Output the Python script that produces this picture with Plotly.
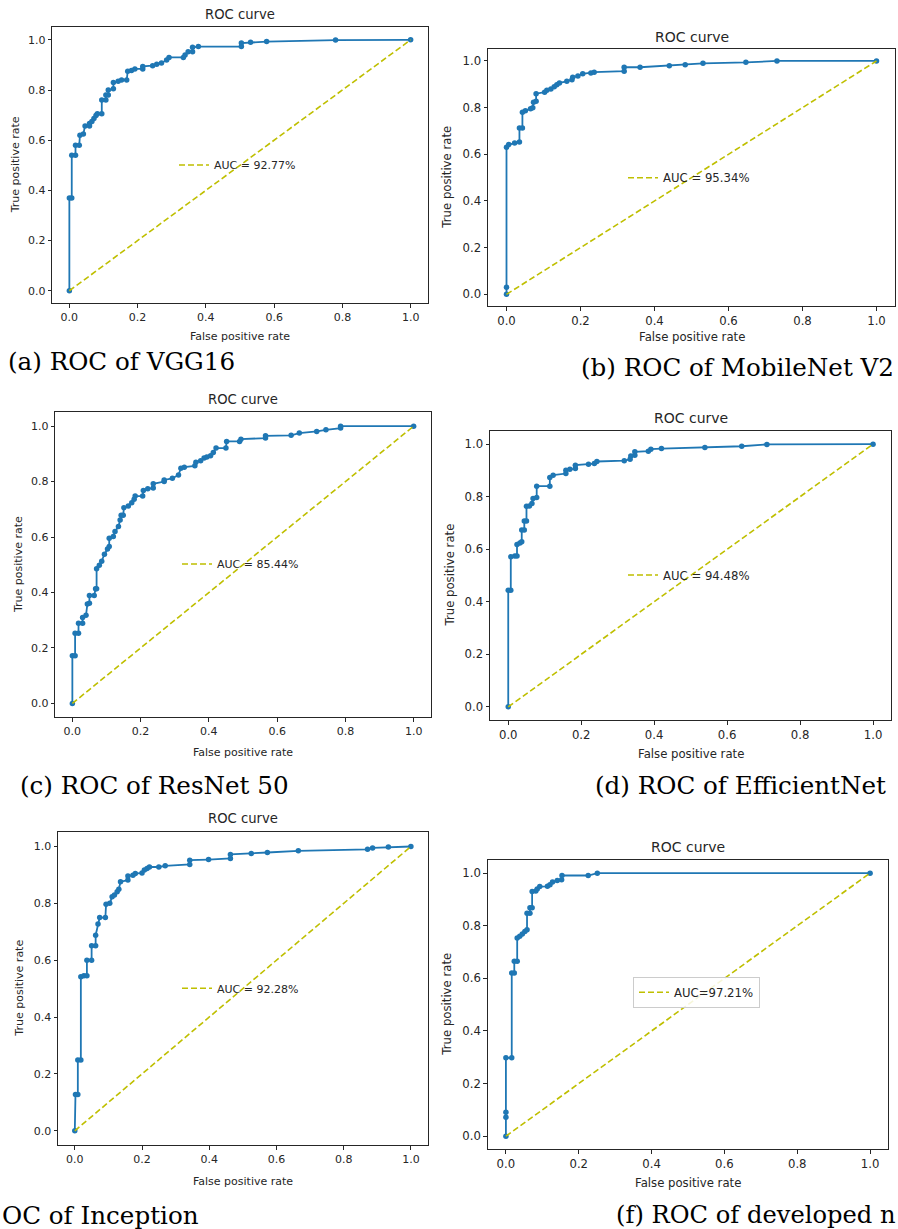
import plotly.graph_objects as go

# ---------------- data ----------------
model_names = ["VGG16", "MobileNet V2", "ResNet 50", "EfficientNet", "Inception", "developed model"]
# captions as visible in the reference (the outer two are cropped at the page edge there)
captions = ["(a) ROC of VGG16", "(b) ROC of MobileNet V2", "(c) ROC of ResNet 50",
            "(d) ROC of EfficientNet", "OC of Inception", "(f) ROC of developed n"]
auc_labels = ["AUC = 92.77%", "AUC = 95.34%", "AUC = 85.44%", "AUC = 94.48%", "AUC = 92.28%", "AUC=97.21%"]
tick_vals = [0.0, 0.2, 0.4, 0.6, 0.8, 1.0]
chance_x = [0, 1]
chance_y = [0, 1]

fpr_vgg16 = [0, 0, 0.007, 0.007, 0.018, 0.018, 0.029, 0.031, 0.041, 0.046,
             0.059, 0.059, 0.066, 0.072, 0.078, 0.082, 0.095, 0.095, 0.107, 0.107,
             0.114, 0.114, 0.129, 0.129, 0.143, 0.153, 0.168, 0.171, 0.182, 0.192,
             0.215, 0.215, 0.244, 0.256, 0.270, 0.285, 0.292, 0.334, 0.339, 0.348,
             0.361, 0.361, 0.378, 0.504, 0.504, 0.531, 0.578, 0.780, 1.0]
tpr_vgg16 = [0, 0.37, 0.37, 0.54, 0.54, 0.58, 0.58, 0.62, 0.625, 0.657,
             0.657, 0.667, 0.675, 0.687, 0.698, 0.705, 0.705, 0.76, 0.76, 0.78,
             0.78, 0.80, 0.805, 0.83, 0.835, 0.84, 0.84, 0.875, 0.878, 0.884,
             0.884, 0.894, 0.897, 0.903, 0.908, 0.92, 0.93, 0.93, 0.94, 0.953,
             0.953, 0.97, 0.973, 0.973, 0.987, 0.99, 0.993, 0.999, 1.0]

fpr_mobilenet = [0, 0, 0, 0.006, 0.022, 0.035, 0.035, 0.043, 0.043, 0.051,
                 0.065, 0.071, 0.073, 0.080, 0.080, 0.103, 0.109, 0.120, 0.129, 0.136,
                 0.143, 0.163, 0.177, 0.179, 0.193, 0.206, 0.228, 0.237, 0.318, 0.318,
                 0.361, 0.440, 0.483, 0.531, 0.647, 0.731, 1.0]
tpr_mobilenet = [0, 0.03, 0.63, 0.642, 0.649, 0.653, 0.713, 0.713, 0.78, 0.787,
                 0.795, 0.80, 0.823, 0.827, 0.86, 0.866, 0.874, 0.88, 0.89, 0.898,
                 0.906, 0.913, 0.92, 0.93, 0.936, 0.945, 0.948, 0.952, 0.956, 0.973,
                 0.973, 0.98, 0.984, 0.99, 0.994, 1.0, 1.0]

fpr_resnet = [0, 0, 0.008, 0.008, 0.018, 0.018, 0.030, 0.030, 0.040, 0.044,
              0.050, 0.050, 0.064, 0.068, 0.071, 0.071, 0.079, 0.086, 0.094, 0.103,
              0.108, 0.108, 0.120, 0.125, 0.135, 0.140, 0.143, 0.149, 0.151, 0.164,
              0.174, 0.181, 0.184, 0.206, 0.208, 0.221, 0.237, 0.237, 0.269, 0.269,
              0.293, 0.311, 0.318, 0.328, 0.359, 0.362, 0.376, 0.386, 0.394, 0.405,
              0.413, 0.421, 0.450, 0.452, 0.490, 0.494, 0.566, 0.566, 0.641, 0.665,
              0.716, 0.743, 0.786, 0.786, 1.0]
tpr_resnet = [0, 0.172, 0.172, 0.253, 0.253, 0.289, 0.289, 0.31, 0.318, 0.359,
              0.361, 0.389, 0.389, 0.414, 0.414, 0.486, 0.498, 0.513, 0.538, 0.557,
              0.566, 0.596, 0.602, 0.62, 0.638, 0.662, 0.679, 0.679, 0.706, 0.712,
              0.724, 0.736, 0.748, 0.748, 0.768, 0.774, 0.777, 0.792, 0.80, 0.806,
              0.812, 0.824, 0.848, 0.852, 0.857, 0.87, 0.875, 0.885, 0.889, 0.893,
              0.905, 0.921, 0.921, 0.945, 0.945, 0.953, 0.957, 0.965, 0.967, 0.975,
              0.981, 0.987, 0.993, 1.0, 1.0]

fpr_efficientnet = [0, 0, 0.007, 0.007, 0.018, 0.024, 0.024, 0.032, 0.037, 0.037,
                    0.044, 0.044, 0.050, 0.050, 0.058, 0.065, 0.068, 0.078, 0.078, 0.114,
                    0.114, 0.123, 0.158, 0.158, 0.169, 0.184, 0.184, 0.220, 0.236, 0.243,
                    0.318, 0.334, 0.336, 0.347, 0.347, 0.384, 0.391, 0.420, 0.539, 0.640,
                    0.709, 1.0]
tpr_efficientnet = [0, 0.444, 0.444, 0.571, 0.574, 0.574, 0.618, 0.624, 0.628, 0.673,
                    0.673, 0.707, 0.707, 0.764, 0.765, 0.774, 0.793, 0.797, 0.84, 0.84,
                    0.873, 0.882, 0.888, 0.901, 0.904, 0.907, 0.92, 0.923, 0.926, 0.934,
                    0.937, 0.942, 0.955, 0.958, 0.971, 0.973, 0.981, 0.983, 0.987, 0.992,
                    0.999, 1.0]

fpr_inception = [0, 0.002, 0.009, 0.009, 0.018, 0.018, 0.027, 0.036, 0.036, 0.050,
                 0.050, 0.062, 0.062, 0.069, 0.074, 0.091, 0.093, 0.104, 0.111, 0.118,
                 0.126, 0.131, 0.136, 0.158, 0.158, 0.173, 0.180, 0.200, 0.207, 0.215,
                 0.222, 0.250, 0.269, 0.342, 0.342, 0.398, 0.463, 0.463, 0.525, 0.573,
                 0.665, 0.871, 0.886, 0.933, 1.0]
tpr_inception = [0, 0.128, 0.128, 0.249, 0.249, 0.542, 0.545, 0.545, 0.60, 0.60,
                 0.651, 0.651, 0.688, 0.727, 0.75, 0.75, 0.797, 0.80, 0.823, 0.829,
                 0.841, 0.85, 0.876, 0.882, 0.896, 0.899, 0.905, 0.907, 0.917, 0.923,
                 0.928, 0.928, 0.932, 0.937, 0.952, 0.954, 0.958, 0.972, 0.975, 0.979,
                 0.985, 0.99, 0.995, 0.998, 1.0]

fpr_developed = [0, 0, 0, 0, 0.016, 0.016, 0.023, 0.023, 0.031, 0.031,
                 0.038, 0.045, 0.052, 0.058, 0.058, 0.066, 0.066, 0.072, 0.072, 0.082,
                 0.086, 0.093, 0.114, 0.121, 0.128, 0.141, 0.153, 0.154, 0.226, 0.251,
                 1.0]
tpr_developed = [0, 0.072, 0.091, 0.298, 0.298, 0.62, 0.62, 0.665, 0.665, 0.753,
                 0.76, 0.769, 0.778, 0.785, 0.848, 0.848, 0.868, 0.868, 0.93, 0.932,
                 0.94, 0.949, 0.95, 0.956, 0.966, 0.972, 0.975, 0.991, 0.991, 1.0,
                 1.0]

fprs = [fpr_vgg16, fpr_mobilenet, fpr_resnet, fpr_efficientnet, fpr_inception, fpr_developed]
tprs = [tpr_vgg16, tpr_mobilenet, tpr_resnet, tpr_efficientnet, tpr_inception, tpr_developed]
for f_, t_ in zip(fprs, tprs):
    assert len(f_) == len(t_)

# ---------------- layout (pixels) ----------------
W, H = 898, 1229
# axes frame boxes: left, top, right, bottom
boxes = [(52.3, 27.3, 427.7, 303.3), (488, 49.3, 895, 306),
         (55.3, 412.3, 430.7, 717.3), (490, 431, 891.3, 720),
         (58, 832.3, 427.7, 1145), (487.7, 860, 888.3, 1149.3)]
title_y = [15, 37.3, 399, 417.7, 818.3, 846.7]
xlabel_y = [336, 336.7, 753, 754, 1181.7, 1182.7]
ylabel_x = [15, 447, 18.3, 449, 20, 447]
legend_pos = [(214, 165), (663, 177.7), (217, 564), (663, 575), (217, 988.3), (673, 992.3)]
caption_pos = [(6, 361, "left"), (896, 367, "right"), (18, 785, "left"),
               (593, 785, "left"), (0, 1215, "left"), (614, 1215, "left")]
caption_size = [24.6, 24.6, 24.6, 24.6, 24.6, 24.2]
small = [11, 11.7, 11, 11.7, 11, 11.7]
big = [13.2, 14, 13.2, 14, 13.2, 14]

BLUE = "#1f77b4"
YELLOW = "#bfbf00"
TXT = "#262626"
FONT = "DejaVu Sans"


def px(x):
    return x / W


def py(y):
    return 1 - y / H


fig = go.Figure()
annotations = []
layout = dict(width=W, height=H, margin=dict(l=0, r=0, t=0, b=0),
              paper_bgcolor="white", plot_bgcolor="white", showlegend=True)

for i in range(6):
    n = i + 1
    sfx = "" if n == 1 else str(n)
    xa, ya = "x" + sfx, "y" + sfx
    lg = "legend" + sfx
    fig.add_trace(go.Scatter(x=fprs[i], y=tprs[i], mode="lines+markers",
                             line=dict(color=BLUE, width=1.8),
                             marker=dict(color=BLUE, size=5.5),
                             xaxis=xa, yaxis=ya, showlegend=False, name=model_names[i]))
    fig.add_trace(go.Scatter(x=chance_x, y=chance_y, mode="lines",
                             line=dict(color=YELLOW, width=1.6, dash="6px,3px"),
                             xaxis=xa, yaxis=ya, name=auc_labels[i], legend=lg))
    l, t, r, b = boxes[i]
    ax_common = dict(range=[-0.05, 1.05], tickvals=tick_vals, tickformat=".1f",
                     ticks="outside", ticklen=3.5, tickwidth=1, tickcolor=TXT,
                     showline=True, mirror=True, linecolor=TXT, linewidth=1,
                     showgrid=False, zeroline=False,
                     tickfont=dict(family=FONT, size=small[i], color=TXT))
    layout["xaxis" + sfx] = dict(ax_common, domain=[px(l), px(r)], anchor=ya)
    layout["yaxis" + sfx] = dict(ax_common, domain=[py(b), py(t)], anchor=xa)
    cx = (l + r) / 2
    cy = (t + b) / 2
    annotations.append(dict(text="ROC curve", x=px(cx), y=py(title_y[i]), xref="paper", yref="paper",
                            xanchor="center", yanchor="middle", showarrow=False,
                            font=dict(family=FONT, size=big[i], color=TXT)))
    annotations.append(dict(text="False positive rate", x=px(cx), y=py(xlabel_y[i]), xref="paper",
                            yref="paper", xanchor="center", yanchor="middle", showarrow=False,
                            font=dict(family=FONT, size=small[i], color=TXT)))
    annotations.append(dict(text="True positive rate", x=px(ylabel_x[i]), y=py(cy), xref="paper",
                            yref="paper", xanchor="center", yanchor="middle", showarrow=False,
                            textangle=-90, font=dict(family=FONT, size=small[i], color=TXT)))
    cxp, cyp, anc = caption_pos[i]
    annotations.append(dict(text=captions[i], x=px(cxp), y=py(cyp), xref="paper", yref="paper",
                            xanchor=anc, yanchor="middle", showarrow=False,
                            font=dict(family="DejaVu Serif", size=caption_size[i], color="black")))
    tx, ty = legend_pos[i]
    boxed = (i == 5)
    layout[lg] = dict(x=px(tx - 40), y=py(ty), xanchor="left", yanchor="middle",
                      bgcolor="rgba(255,255,255,0.85)" if boxed else "rgba(0,0,0,0)",
                      bordercolor="#cccccc", borderwidth=1 if boxed else 0,
                      font=dict(family=FONT, size=small[i], color=TXT))

layout["annotations"] = annotations
fig.update_layout(**layout)
fig.write_html("out.html")
